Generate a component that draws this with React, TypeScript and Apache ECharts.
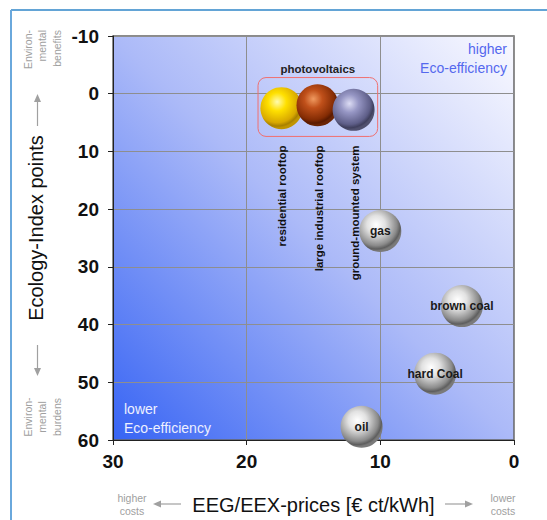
import React, { useEffect, useRef } from "react";
import * as echarts from "echarts";

const categories = [
  "residential rooftop",
  "large industrial rooftop",
  "ground-mounted system",
  "gas",
  "brown coal",
  "hard Coal",
  "oil",
];
const costValues = [17.4, 14.7, 12.0, 10.0, 3.9, 5.9, 11.4];
const ecoValues = [2.5, 2.0, 2.8, 23.8, 36.8, 48.5, 57.7];
const isPV = [true, true, true, false, false, false, false];
const xTickValues = [0, 10, 20, 30];
const yTickValues = [-10, 0, 10, 20, 30, 40, 50, 60];
const pvGroupLabel = "photovoltaics";
const pvBox = { x1: 19.15, y1: -2.8, x2: 10.2, y2: 7.4 };

const FONT = "'Liberation Sans', Arial, sans-serif";

function sphere(stops: string[]) {
  return new echarts.graphic.RadialGradient(0.4, 0.35, 0.62, [
    { offset: 0, color: stops[0] },
    { offset: 0.35, color: stops[1] },
    { offset: 0.8, color: stops[2] },
    { offset: 0.93, color: stops[3] },
    { offset: 1, color: stops[4] },
  ]);
}

const silver = ["#ffffff", "#e2e2e2", "#8a8a8a", "#5e5e5e", "#7a7a7a"];
const colors = [
  ["#fffbb0", "#ffe000", "#d8a800", "#a88000", "#c09400"],
  ["#f09a60", "#c0501a", "#842c04", "#5a1a00", "#6a2404"],
  ["#dcdcf4", "#9696c4", "#5e5e88", "#40405e", "#50506e"],
  silver,
  silver,
  silver,
  silver,
];

export default function App() {
  const ref = useRef<HTMLDivElement>(null);
  useEffect(() => {
    document.body.style.margin = "0";
    const chart = echarts.init(ref.current!, null, { renderer: "svg" });
    const data = categories.map((c, i) => ({
      name: c,
      value: [costValues[i], ecoValues[i]],
      itemStyle: { color: sphere(colors[i]), opacity: 1 },
      label: {
        show: !isPV[i],
        formatter: c,
        position: "inside",
        color: "#1a1a1a",
        fontWeight: "bold",
        fontSize: 12,
        fontFamily: FONT,
      },
    }));
    const option: any = {
      animation: false,
      backgroundColor: "#ffffff",
      grid: {
        left: 113,
        right: 33,
        top: 36,
        bottom: 79,
        show: true,
        borderColor: "#666666",
        borderWidth: 1.5,
        backgroundColor: new echarts.graphic.LinearGradient(0, 1, 1, 0, [
          { offset: 0, color: "#3764f4" },
          { offset: 0.5, color: "#acbaf8" },
          { offset: 1, color: "#fafaff" },
        ]),
      },
      xAxis: {
        type: "value",
        inverse: true,
        min: 0,
        max: 30,
        interval: 10,
        name: "EEG/EEX-prices [€ ct/kWh]",
        nameLocation: "middle",
        nameGap: 55,
        nameTextStyle: { fontSize: 20, color: "#111", fontFamily: FONT },
        axisLine: { show: true, onZero: false, lineStyle: { color: "#222", width: 1 } },
        axisTick: { show: true, length: 5, lineStyle: { color: "#222" } },
        axisLabel: {
          fontSize: 19,
          fontWeight: "bold",
          color: "#111",
          fontFamily: FONT,
          margin: 12,
          customValues: xTickValues,
        },
        splitLine: { show: true, lineStyle: { color: "#8e8e8e", width: 1 } },
      },
      yAxis: {
        type: "value",
        inverse: true,
        min: -10,
        max: 60,
        interval: 10,
        axisLine: { show: true, onZero: false, lineStyle: { color: "#222", width: 1 } },
        axisTick: { show: true, length: 5, lineStyle: { color: "#222" } },
        axisLabel: {
          fontSize: 19,
          fontWeight: "bold",
          color: "#111",
          fontFamily: FONT,
          margin: 14,
          customValues: yTickValues,
        },
        splitLine: { show: true, lineStyle: { color: "#8e8e8e", width: 1 } },
      },
      series: [
        {
          type: "scatter",
          symbol: "circle",
          symbolSize: 42,
          data,
        },
      ],
    };
    chart.setOption(option);

    const px = (x: number, y: number) =>
      chart.convertToPixel({ gridIndex: 0 }, [x, y]) as number[];
    const b1 = px(pvBox.x1, pvBox.y1);
    const b2 = px(pvBox.x2, pvBox.y2);
    const gray = "#a0a0a0";
    const graphic: any[] = [
      // frame
      { type: "line", shape: { x1: 11, y1: 10, x2: 547, y2: 10 }, style: { stroke: "#2f86c8", lineWidth: 1.5 } },
      { type: "line", shape: { x1: 11, y1: 10, x2: 11, y2: 520 }, style: { stroke: "#6aa8dc", lineWidth: 2 } },
      // y axis title
      {
        type: "text",
        x: 36,
        y: 228,
        rotation: Math.PI / 2,
        style: { text: "Ecology-Index points", fill: "#111", font: `20px ${FONT}`, align: "center", verticalAlign: "middle" },
      },
      // pv box
      {
        type: "rect",
        shape: { x: b1[0], y: b1[1], width: b2[0] - b1[0], height: b2[1] - b1[1], r: 8 },
        style: { fill: "none", stroke: "#f07070", lineWidth: 1 },
        z: 10,
      },
      {
        type: "text",
        x: (b1[0] + b2[0]) / 2,
        y: b1[1] - 9,
        style: { text: pvGroupLabel, fill: "#222", font: `bold 11.5px ${FONT}`, align: "center", verticalAlign: "middle" },
        z: 10,
      },
      // corner texts
      {
        type: "text",
        x: 507,
        y: 58,
        style: { text: "higher\nEco-efficiency", fill: "#5468ee", font: `14px ${FONT}`, align: "right", verticalAlign: "middle", lineHeight: 19 },
        z: 10,
      },
      {
        type: "text",
        x: 124,
        y: 418,
        style: { text: "lower\nEco-efficiency", fill: "#eef0ff", font: `14px ${FONT}`, align: "left", verticalAlign: "middle", lineHeight: 19 },
        z: 10,
      },
      // left side small texts
      {
        type: "text",
        x: 42,
        y: 30,
        rotation: Math.PI / 2,
        style: { text: "Environ-\nmental\nbenefits", fill: gray, font: `10.5px ${FONT}`, align: "right", verticalAlign: "middle", lineHeight: 14.5 },
      },
      {
        type: "text",
        x: 42,
        y: 417,
        rotation: Math.PI / 2,
        style: { text: "Environ-\nmental\nburdens", fill: gray, font: `10.5px ${FONT}`, align: "center", verticalAlign: "middle", lineHeight: 14.5 },
      },
      // y arrows
      { type: "line", shape: { x1: 37.5, y1: 126, x2: 37.5, y2: 100 }, style: { stroke: gray, lineWidth: 1.2 } },
      { type: "polygon", shape: { points: [[37.5, 94], [34, 102], [41, 102]] }, style: { fill: gray } },
      { type: "line", shape: { x1: 37.5, y1: 345, x2: 37.5, y2: 370 }, style: { stroke: gray, lineWidth: 1.2 } },
      { type: "polygon", shape: { points: [[37.5, 376], [34, 368], [41, 368]] }, style: { fill: gray } },
      // bottom small texts
      {
        type: "text",
        x: 132,
        y: 504,
        style: { text: "higher\ncosts", fill: gray, font: `10.5px ${FONT}`, align: "center", verticalAlign: "middle", lineHeight: 13 },
      },
      {
        type: "text",
        x: 503,
        y: 504,
        style: { text: "lower\ncosts", fill: gray, font: `10.5px ${FONT}`, align: "center", verticalAlign: "middle", lineHeight: 13 },
      },
      { type: "line", shape: { x1: 160, y1: 504, x2: 181, y2: 504 }, style: { stroke: gray, lineWidth: 1.2 } },
      { type: "polygon", shape: { points: [[153, 504], [161, 500.5], [161, 507.5]] }, style: { fill: gray } },
      { type: "line", shape: { x1: 445, y1: 504, x2: 466, y2: 504 }, style: { stroke: gray, lineWidth: 1.2 } },
      { type: "polygon", shape: { points: [[473, 504], [465, 500.5], [465, 507.5]] }, style: { fill: gray } },
    ];
    // vertical PV labels
    categories.forEach((c, i) => {
      if (!isPV[i]) return;
      const p = px(costValues[i], ecoValues[i]);
      graphic.push({
        type: "text",
        x: p[0] + 1,
        y: b2[1] + 9,
        rotation: Math.PI / 2,
        style: { text: c, fill: "#111", font: `bold 11.5px ${FONT}`, align: "right", verticalAlign: "middle" },
        z: 10,
      });
    });
    chart.setOption({ graphic });
    return () => chart.dispose();
  }, []);
  return <div ref={ref} style={{ width: 547, height: 520 }} />;
}
